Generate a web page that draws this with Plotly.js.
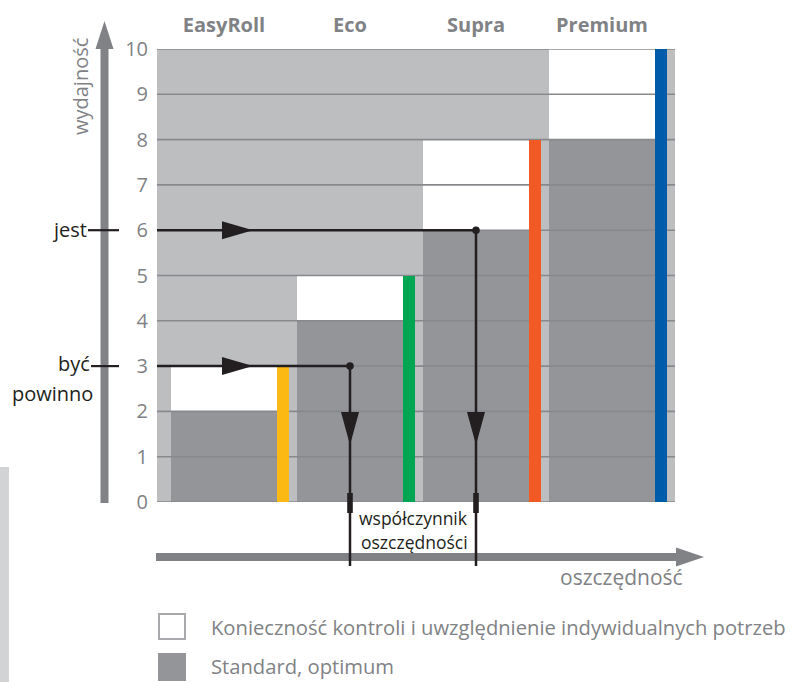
<!DOCTYPE html>
<html>
<head>
<meta charset="utf-8">
<script src="https://cdn.plot.ly/plotly-3.0.1.min.js"></script>
<style>html,body{margin:0;padding:0;background:#fff;}#chart{width:798px;height:682px;}</style>
</head>
<body>
<div id="chart"></div>
<script>
// ---- data ----
const categories = ['EasyRoll', 'Eco', 'Supra', 'Premium'];
const standardValues = [2, 4, 6, 8];          // "Standard, optimum" (dark grey)
const requiredValues = [3, 5, 8, 10];         // top of white "Konieczność..." part / coloured bar
const barColors = ['#fdb913', '#00a651', '#f15a24', '#005baa'];
const yTickValues = [0, 1, 2, 3, 4, 5, 6, 7, 8, 9, 10];
const seriesNames = ['Konieczność kontroli i uwzględnienie indywidualnych potrzeb', 'Standard, optimum'];
const levelIs = 6;            // "jest"
const levelShould = 3;        // "być powinno"
const levelIsCategory = 2;    // Supra
const levelShouldCategory = 1; // Eco
const yAxisTitle = 'wydajność';
const xAxisTitle = 'oszczędność';
const savingLabel = ['współczynnik', 'oszczędności'];

// ---- geometry / style ----
const W = 798, H = 682;
const L = 157, R = 675, T = 49, B = 502;
const PW = R - L, PH = B - T;
const COL = 126;                 // px per category
const XR0 = -14 / COL, XR1 = 4;  // x range in category units
const DW = 106 / COL;            // dark bar width
const CW = 12 / COL;             // coloured bar width
const GREY_TXT = '#808285';
const DARK = '#939598', LIGHT = '#bcbec0', GRID = '#88898c', BLACK = '#231f20';
const FONT = 'Open Sans, Noto Sans, sans-serif';

const px = v => (v - L) / PW;    // pixel -> paper x
const py = v => (B - v) / PH;    // pixel -> paper y
const dataToPx = x => L + (x - XR0) * COL;

const idx = categories.map((c, i) => i);
const traces = [];

// dark "standard" bars
traces.push({
  type: 'bar', name: seriesNames[1], x: idx.map(i => i + DW / 2), y: standardValues,
  width: DW, marker: {color: DARK, line: {width: 0}}, xaxis: 'x', yaxis: 'y', hoverinfo: 'skip'
});
// white "necessity" parts
traces.push({
  type: 'bar', name: seriesNames[0], x: idx.map(i => i + DW / 2),
  y: requiredValues.map((v, i) => v - standardValues[i]), base: standardValues,
  width: DW, marker: {color: '#ffffff', line: {width: 0}}, xaxis: 'x', yaxis: 'y', hoverinfo: 'skip'
});
// grid lines (drawn above the grey bars, below the coloured bars)
const gx = [], gy = [];
yTickValues.forEach(k => { gx.push(XR0, XR1, null); gy.push(k, k, null); });
traces.push({type: 'scatter', mode: 'lines', x: gx, y: gy, line: {color: GRID, width: 1.6},
  xaxis: 'x', yaxis: 'y', hoverinfo: 'skip', showlegend: false});
// coloured bars on overlay axes
traces.push({
  type: 'bar', x: idx.map(i => i + DW + CW / 2), y: requiredValues, width: CW,
  marker: {color: barColors, line: {width: 0}}, xaxis: 'x2', yaxis: 'y2', hoverinfo: 'skip', showlegend: false
});

const shapes = [];
const annotations = [];

// left decorative strip
shapes.push({type: 'rect', xref: 'paper', yref: 'paper', x0: px(0), x1: px(9), y0: py(467), y1: py(682),
  fillcolor: '#d1d3d4', line: {width: 0}, layer: 'above'});

// vertical grey axis arrow
shapes.push({type: 'line', xref: 'paper', yref: 'paper', x0: px(104.5), x1: px(104.5), y0: py(503), y1: py(46),
  line: {color: GREY_TXT, width: 8}});
shapes.push({type: 'path', xref: 'paper', yref: 'paper',
  path: `M ${px(104.5)},${py(21)} L ${px(95.5)},${py(49)} L ${px(113.5)},${py(49)} Z`,
  fillcolor: GREY_TXT, line: {width: 0}});
// horizontal grey axis arrow
shapes.push({type: 'line', xref: 'paper', yref: 'paper', x0: px(156), x1: px(678), y0: py(557), y1: py(557),
  line: {color: GREY_TXT, width: 8}});
shapes.push({type: 'path', xref: 'paper', yref: 'paper',
  path: `M ${px(704)},${py(557)} L ${px(676)},${py(547.5)} L ${px(676)},${py(566.5)} Z`,
  fillcolor: GREY_TXT, line: {width: 0}});

// level arrows (jest / być powinno)
function levelArrow(level, catIndex, labelPxY) {
  const dropPx = dataToPx(catIndex + DW / 2);
  const yLevelPaper = level / 10;
  const yLevelPx = B - level / 10 * PH;
  // horizontal
  shapes.push({type: 'line', xref: 'paper', yref: 'paper', x0: 0, x1: px(dropPx), y0: yLevelPaper, y1: yLevelPaper,
    line: {color: BLACK, width: 2.5}, layer: 'above'});
  shapes.push({type: 'path', xref: 'paper', yref: 'paper',
    path: `M ${px(253)},${yLevelPaper} L ${px(222)},${py(yLevelPx - 9)} L ${px(222)},${py(yLevelPx + 9)} Z`,
    fillcolor: BLACK, line: {width: 0}, layer: 'above'});
  // vertical
  shapes.push({type: 'line', xref: 'paper', yref: 'paper', x0: px(dropPx), x1: px(dropPx), y0: yLevelPaper, y1: py(566),
    line: {color: BLACK, width: 2.5}, layer: 'above'});
  shapes.push({type: 'path', xref: 'paper', yref: 'paper',
    path: `M ${px(dropPx)},${py(445)} L ${px(dropPx - 9)},${py(412)} L ${px(dropPx + 9)},${py(412)} Z`,
    fillcolor: BLACK, line: {width: 0}, layer: 'above'});
  shapes.push({type: 'rect', xref: 'paper', yref: 'paper', x0: px(dropPx - 2.8), x1: px(dropPx + 2.8), y0: py(493), y1: py(513),
    fillcolor: BLACK, line: {width: 0}, layer: 'above'});
  shapes.push({type: 'circle', xref: 'paper', yref: 'paper', x0: px(dropPx - 3.8), x1: px(dropPx + 3.8),
    y0: py(yLevelPx - 3.8), y1: py(yLevelPx + 3.8), fillcolor: BLACK, line: {width: 0}, layer: 'above'});
  // label tick
  shapes.push({type: 'line', xref: 'paper', yref: 'paper', x0: px(labelPxY), x1: px(119), y0: yLevelPaper, y1: yLevelPaper,
    line: {color: BLACK, width: 2.2}, layer: 'above'});
  return dropPx;
}
const dropShould = levelArrow(levelShould, levelShouldCategory, 91);
const dropIs = levelArrow(levelIs, levelIsCategory, 88);

function ann(text, x, y, opts) {
  annotations.push(Object.assign({text: text, xref: 'paper', yref: 'paper', x: px(x), y: py(y), showarrow: false,
    xanchor: 'center', yanchor: 'middle', font: {family: FONT, size: 20, color: GREY_TXT}}, opts || {}));
}
ann(yAxisTitle, 80, 87, {textangle: -90});
ann('jest', 89, 229, {xanchor: 'right', font: {family: FONT, size: 20, color: BLACK}});
ann('być', 92, 363, {xanchor: 'right', font: {family: FONT, size: 20, color: BLACK}});
ann('powinno', 95, 393, {xanchor: 'right', font: {family: FONT, size: 20, color: BLACK}});
ann(savingLabel[0], (dropShould + dropIs) / 2, 518, {font: {family: FONT, size: 17.5, color: BLACK}});
ann(savingLabel[1], (dropShould + dropIs) / 2 + 1, 542, {font: {family: FONT, size: 17.5, color: BLACK}});
ann(xAxisTitle, 621, 577, {font: {family: FONT, size: 21, color: GREY_TXT}});

// custom legend
shapes.push({type: 'rect', xref: 'paper', yref: 'paper', x0: px(159), x1: px(185), y0: py(614), y1: py(639),
  fillcolor: '#ffffff', line: {color: '#a7a9ac', width: 2}});
shapes.push({type: 'rect', xref: 'paper', yref: 'paper', x0: px(158), x1: px(186), y0: py(653), y1: py(681),
  fillcolor: DARK, line: {width: 0}});
ann(seriesNames[0], 209, 627, {xanchor: 'left', font: {family: FONT, size: 20.2, color: GREY_TXT}});
ann(seriesNames[1], 209, 666, {xanchor: 'left', font: {family: FONT, size: 20.2, color: GREY_TXT}});

const layout = {
  width: W, height: H,
  margin: {l: L, r: W - R, t: T, b: H - B, pad: 0},
  paper_bgcolor: '#ffffff', plot_bgcolor: LIGHT,
  showlegend: false, barmode: 'overlay', bargap: 0,
  font: {family: FONT, color: GREY_TXT},
  xaxis: {range: [XR0, XR1], side: 'top', tickmode: 'array', tickvals: idx.map(i => i + DW / 2), ticktext: categories,
    tickfont: {family: FONT, size: 20, color: GREY_TXT, weight: 'bold'}, ticks: 'outside', ticklen: 8,
    tickcolor: 'rgba(0,0,0,0)', showgrid: false, zeroline: false, showline: false, fixedrange: true},
  yaxis: {range: [0, 10], tickmode: 'array', tickvals: yTickValues, ticktext: yTickValues.map(String),
    tickfont: {family: FONT, size: 20, color: GREY_TXT}, ticks: 'outside', ticklen: 4,
    tickcolor: 'rgba(0,0,0,0)', showgrid: false, zeroline: false, showline: false, fixedrange: true},
  xaxis2: {overlaying: 'x', range: [XR0, XR1], visible: false, fixedrange: true},
  yaxis2: {overlaying: 'y', range: [0, 10], visible: false, fixedrange: true},
  shapes: shapes, annotations: annotations
};

Plotly.newPlot('chart', traces, layout, {displayModeBar: false, staticPlot: true});
</script>
</body>
</html>
